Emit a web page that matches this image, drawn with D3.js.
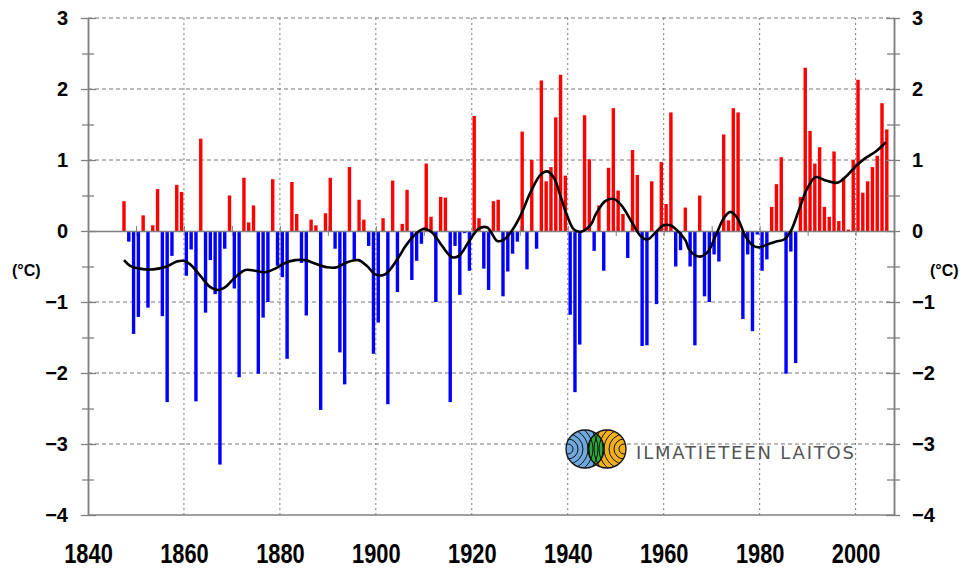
<!DOCTYPE html>
<html>
<head>
<meta charset="utf-8">
<script src="https://cdn.jsdelivr.net/npm/d3@7"></script>
<style>
  body { margin: 0; background: #fff; }
  svg { display: block; font-family: "Liberation Sans", Arial, sans-serif; }
</style>
</head>
<body>
<script>
// annual anomalies 1847-2006 (degrees C)
const firstYear = 1847;
const anomalies = [
  0.42, -0.15, -1.45,
  -1.21, 0.22, -1.08, 0.08, 0.59, -1.20, -2.41, -0.35, 0.65, 0.55,
  -0.63, -0.26, -2.40, 1.30, -1.15, -0.41, -0.89, -3.29, -0.25, 0.50,
  -0.81, -2.06, 0.75, 0.12, 0.36, -2.01, -1.22, -1.00, 0.73, -0.49,
  -0.65, -1.80, 0.69, 0.24, -0.45, -1.19, 0.16, 0.08, -2.52, 0.25,
  0.75, -0.25, -1.71, -2.16, 0.90, -0.40, 0.44, 0.16, -0.21, -1.73,
  -1.29, 0.18, -2.44, 0.71, -0.86, 0.10, 0.58, -0.69, -0.42, -0.18,
  0.95, 0.20, -1.00, 0.48, 0.47, -2.41, -0.21, -0.90, -0.03, -0.56,
  1.62, 0.18, -0.53, -0.83, 0.42, 0.44, -0.92, -0.57, -0.32, -0.15,
  1.40, -0.54, 1.00, -0.25, 2.12, 0.70, 0.90, 1.60, 2.20, 0.78,
  -1.18, -2.27, -1.60, 1.63, 1.01, -0.28, 0.36, -0.56, 0.89, 1.73,
  0.57, 0.24, -0.38, 1.14, 0.79, -1.62, -1.61, 0.70, -1.03, 0.97,
  0.38, 1.67, -0.50, -0.27, 0.33, -0.50, -1.61, 0.50, -0.92, -1.00,
  -0.33, -0.43, 1.36, 0.15, 1.73, 1.67, -1.24, -0.33, -1.41, -0.05,
  -0.56, -0.40, 0.34, 0.66, 1.04, -2.01, -0.29, -1.86, 0.48, 2.30,
  1.41, 0.95, 1.18, 0.34, 0.20, 1.12, 0.14, 0.75, 0.02, 1.00,
  2.13, 0.54, 0.70, 0.90, 1.06, 1.80, 1.43
];

// smoothed curve
const smoothYears = [
  1847.5, 1848.8, 1850.8, 1853.6, 1856.4, 1858.5, 1859.9, 1861.3, 1863.4, 1865.5,
  1867.2, 1868.6, 1870.7, 1872.8, 1874.8, 1876.9, 1879.0, 1881.1, 1883.2, 1885.3,
  1887.0, 1889.8, 1891.9, 1894.0, 1896.4, 1898.1, 1899.9, 1901.6, 1903.0, 1905.1,
  1906.1, 1908.2, 1910.0, 1911.7, 1913.8, 1915.9, 1917.3, 1919.3, 1921.4, 1923.2,
  1925.3, 1926.7, 1928.1, 1930.1, 1932.2, 1934.3, 1935.7, 1937.1, 1938.5, 1939.9,
  1941.3, 1942.7, 1944.8, 1945.8, 1947.8, 1949.6, 1951.3, 1953.4, 1955.2, 1956.6,
  1958.3, 1960.0, 1961.4, 1963.2, 1964.6, 1965.3, 1967.3, 1969.1, 1970.8, 1972.6,
  1973.9, 1975.3, 1977.0, 1978.5, 1979.9, 1981.6, 1983.3, 1985.1, 1986.5, 1988.2,
  1990.0, 1991.7, 1993.8, 1996.2, 1997.9, 2000.0, 2002.1, 2004.2, 2006.3
];
const smoothValues = [
  -0.41, -0.49, -0.53, -0.54, -0.50, -0.43, -0.42, -0.47, -0.63, -0.79,
  -0.83, -0.79, -0.65, -0.55, -0.56, -0.58, -0.53, -0.45, -0.41, -0.41,
  -0.45, -0.51, -0.51, -0.44, -0.41, -0.49, -0.61, -0.62, -0.54, -0.33,
  -0.22, -0.05, 0.03, -0.02, -0.21, -0.37, -0.35, -0.16, 0.03, 0.05,
  -0.14, -0.12, -0.02, 0.21, 0.54, 0.79, 0.84, 0.75, 0.49, 0.21,
  0.02, -0.01, 0.09, 0.23, 0.42, 0.45, 0.35, 0.12, -0.07, -0.12,
  -0.02, 0.08, 0.08, -0.02, -0.14, -0.26, -0.36, -0.30, -0.07, 0.19,
  0.27, 0.19, -0.07, -0.20, -0.23, -0.19, -0.15, -0.12, 0.00, 0.30,
  0.61, 0.76, 0.71, 0.68, 0.76, 0.91, 1.03, 1.12, 1.25
];

const yMajor = [-4, -3, -2, -1, 0, 1, 2, 3];
const yMinor = [-3.5, -2.5, -1.5, -0.5, 0.5, 1.5, 2.5];
const xLabels = [1840, 1860, 1880, 1900, 1920, 1940, 1960, 1980, 2000];
const zeroTicks = d3.range(1850, 2001, 10);

const width = 974;
const height = 573;
const plotLeft = 88, plotRight = 894, plotTop = 18, plotBottom = 515;
const axisGrey = '#808080';

const svg = d3.select('body').append('svg')
  .attr('width', width).attr('height', height);

const x = d3.scaleLinear().domain([1840, 2008]).range([plotLeft, plotRight]);
const y = d3.scaleLinear().domain([-4, 3]).range([plotBottom, plotTop]);

const data = anomalies.map((v, i) => ({ year: firstYear + i, value: v }));
const smooth = smoothYears.map((yr, i) => ({ year: yr, value: smoothValues[i] }));

// grid
svg.append('g')
  .selectAll('line')
  .data(yMajor.filter((d) => d !== 0 && d !== -4))
  .join('line')
  .attr('x1', plotLeft).attr('x2', plotRight)
  .attr('y1', (d) => y(d)).attr('y2', (d) => y(d))
  .attr('stroke', '#777').attr('stroke-width', 1)
  .attr('stroke-dasharray', '4,3');

svg.append('g')
  .selectAll('line')
  .data(xLabels.slice(1))
  .join('line')
  .attr('x1', (d) => x(d)).attr('x2', (d) => x(d))
  .attr('y1', plotTop).attr('y2', plotBottom)
  .attr('stroke', '#777').attr('stroke-width', 1)
  .attr('stroke-dasharray', '2,3');

// bars
const barW = x(1) - x(0) - 1.4;
svg.append('g')
  .selectAll('rect')
  .data(data)
  .join('rect')
  .attr('x', (d) => x(d.year) + 0.7)
  .attr('width', barW)
  .attr('y', (d) => y(Math.max(0, d.value)))
  .attr('height', (d) => Math.abs(y(d.value) - y(0)))
  .attr('fill', (d) => (d.value >= 0 ? '#ff0000' : '#0000ff'));

// zero line with decade ticks
const zeroAxis = svg.append('g')
  .attr('transform', `translate(0,${y(0)})`)
  .call(d3.axisBottom(x).tickValues(zeroTicks).tickSizeOuter(0).tickFormat(''));
zeroAxis.select('.domain').attr('stroke', axisGrey).attr('stroke-width', 1.5);
zeroAxis.selectAll('.tick line').attr('y1', -5).attr('y2', 5).attr('stroke', axisGrey);

// smoothed curve
svg.append('path')
  .datum(smooth)
  .attr('fill', 'none')
  .attr('stroke', '#000')
  .attr('stroke-width', 2.6)
  .attr('d', d3.line().x((d) => x(d.year)).y((d) => y(d.value)).curve(d3.curveCatmullRom));

// bottom frame line
svg.append('line')
  .attr('x1', plotLeft).attr('x2', plotRight)
  .attr('y1', plotBottom).attr('y2', plotBottom)
  .attr('stroke', axisGrey).attr('stroke-width', 1.5);

// side axes
function styleAxis(g, a, b) {
  g.select('.domain').attr('stroke', axisGrey).attr('stroke-width', 1.5);
  g.selectAll('.tick line').attr('x1', a).attr('x2', b).attr('stroke', axisGrey).attr('stroke-width', 1.3);
  g.selectAll('.tick text')
    .attr('font-size', 20).attr('font-weight', 'bold')
    .attr('font-family', '"Liberation Sans", Arial, sans-serif')
    .attr('fill', '#000');
}
const yAxisL = svg.append('g')
  .attr('transform', `translate(${plotLeft},0)`)
  .call(d3.axisLeft(y).tickValues(yMajor).tickSize(0).tickPadding(20).tickFormat(d3.format('d')));
styleAxis(yAxisL, -7, 8);
svg.append('g')
  .attr('transform', `translate(${plotLeft},0)`)
  .call(d3.axisLeft(y).tickValues(yMinor).tickSize(0).tickFormat(''))
  .call((g) => styleAxis(g, -6, 6));

const yAxisR = svg.append('g')
  .attr('transform', `translate(${plotRight},0)`)
  .call(d3.axisRight(y).tickValues(yMajor).tickSize(0).tickPadding(18).tickFormat(d3.format('d')));
styleAxis(yAxisR, -8, 6);
svg.append('g')
  .attr('transform', `translate(${plotRight},0)`)
  .call(d3.axisRight(y).tickValues(yMinor).tickSize(0).tickFormat(''))
  .call((g) => styleAxis(g, -7, 6));

// bottom labels (narrow bold look)
const xAxis = svg.append('g')
  .attr('transform', `translate(0,${plotBottom})`)
  .call(d3.axisBottom(x).tickValues(xLabels).tickSize(0).tickPadding(28).tickFormat(d3.format('d')));
xAxis.select('.domain').remove();
xAxis.selectAll('.tick text')
  .attr('font-size', 28).attr('font-weight', 'bold')
  .attr('font-family', '"Liberation Sans", Arial, sans-serif')
  .attr('transform', 'scale(0.78,1)')
  .attr('fill', '#000');

// unit labels
svg.append('text').attr('x', 12).attr('y', 276)
  .attr('font-size', 16).attr('font-weight', 'bold').text('(°C)');
svg.append('text').attr('x', 930).attr('y', 276)
  .attr('font-size', 16).attr('font-weight', 'bold').text('(°C)');

// logo
const logo = svg.append('g').attr('transform', 'translate(596,449)');
const defs = svg.append('defs');
defs.append('clipPath').attr('id', 'clipL')
  .append('circle').attr('cx', -11).attr('cy', 0).attr('r', 19);
defs.append('clipPath').attr('id', 'clipR')
  .append('circle').attr('cx', 11).attr('cy', 0).attr('r', 19);
logo.append('circle').attr('cx', -11).attr('r', 19).attr('fill', '#6fa8dc');
logo.append('circle').attr('cx', 11).attr('r', 19).attr('fill', '#f2b01e');
logo.append('g').attr('clip-path', 'url(#clipL)')
  .append('circle').attr('cx', 11).attr('r', 19).attr('fill', '#2fa83a');
const rings = [5, 10, 15, 20, 25, 30, 35];
logo.append('g').attr('clip-path', 'url(#clipL)')
  .selectAll('circle').data(rings).join('circle')
  .attr('cx', -28).attr('r', (d) => d)
  .attr('fill', 'none').attr('stroke', '#111').attr('stroke-width', 1);
logo.append('g').attr('clip-path', 'url(#clipR)')
  .selectAll('circle').data(rings).join('circle')
  .attr('cx', 28).attr('r', (d) => d)
  .attr('fill', 'none').attr('stroke', '#111').attr('stroke-width', 1);
logo.append('circle').attr('cx', -11).attr('r', 19).attr('fill', 'none').attr('stroke', '#111').attr('stroke-width', 1.3);
logo.append('circle').attr('cx', 11).attr('r', 19).attr('fill', 'none').attr('stroke', '#111').attr('stroke-width', 1.3);

svg.append('text')
  .attr('x', 636).attr('y', 459)
  .attr('font-size', 18)
  .attr('font-family', '"DejaVu Sans", sans-serif')
  .attr('fill', '#555')
  .attr('textLength', 218).attr('lengthAdjust', 'spacing')
  .text('ILMATIETEEN LAITOS');
</script>
</body>
</html>
